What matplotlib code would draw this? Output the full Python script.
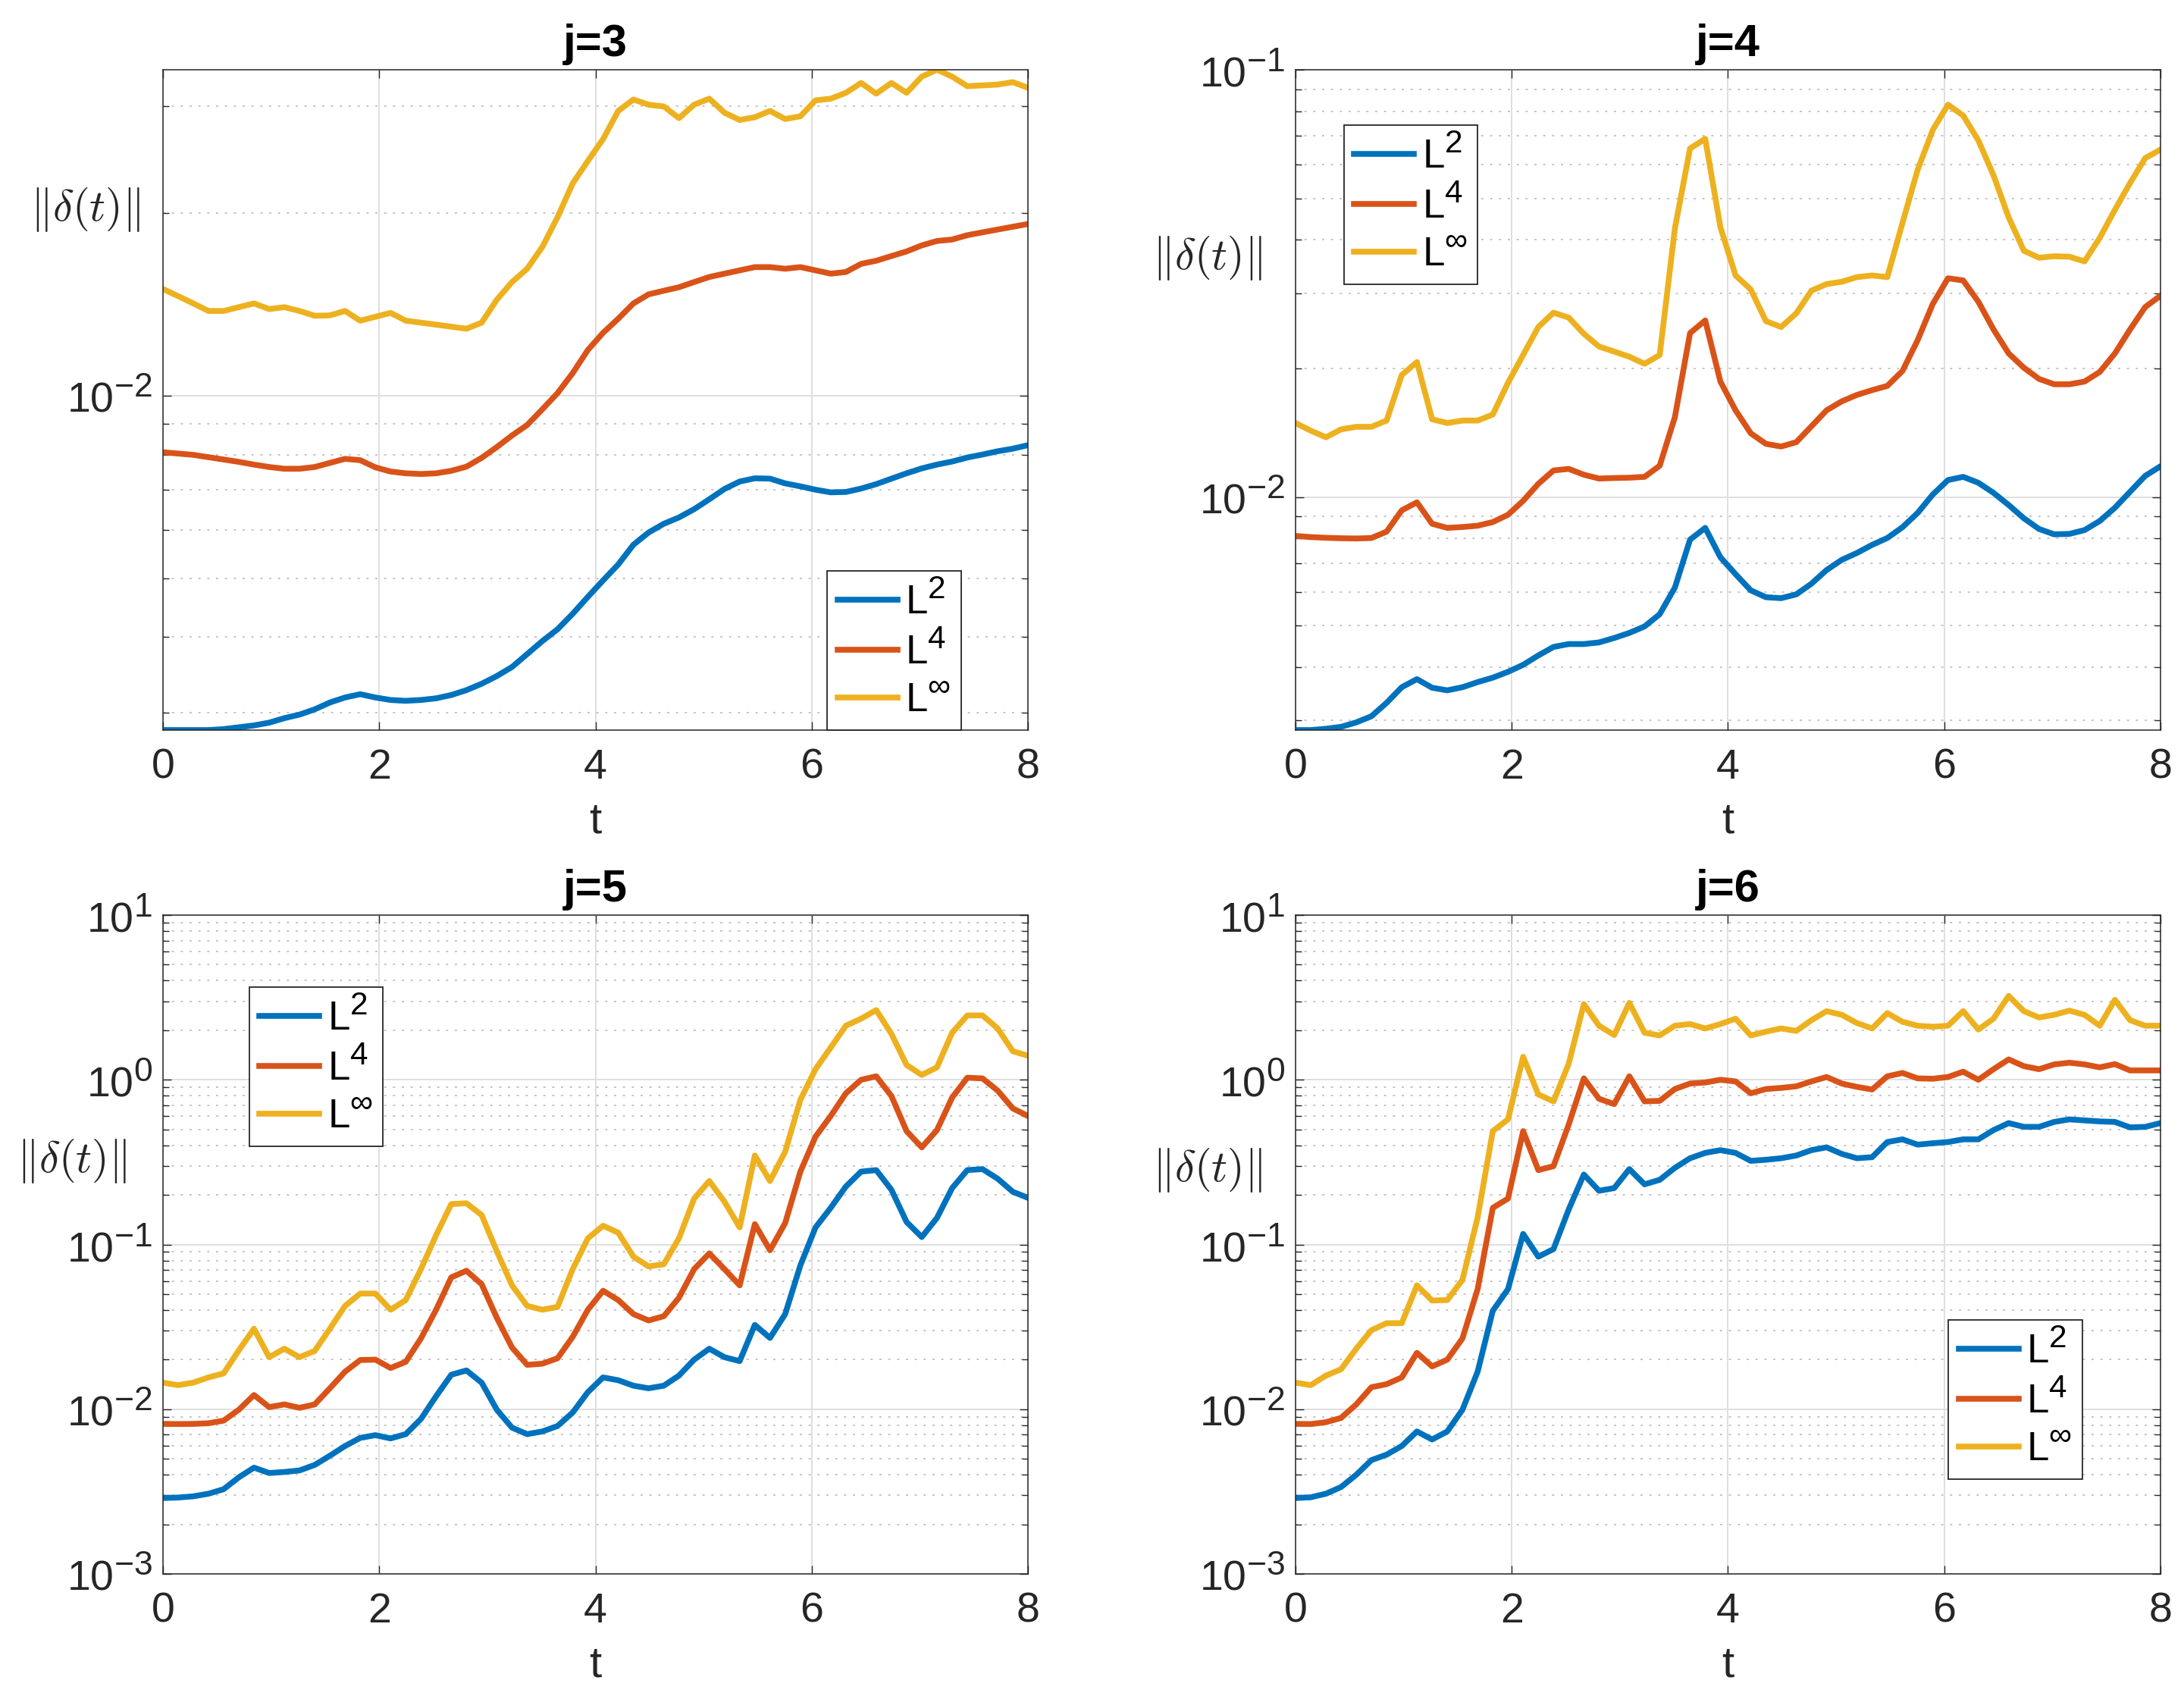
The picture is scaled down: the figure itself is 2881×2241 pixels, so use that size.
import numpy as np
import matplotlib
matplotlib.use("Agg")
import matplotlib.pyplot as plt
import matplotlib._mathtext as _mt
from matplotlib.ticker import LogLocator, NullFormatter, FixedLocator

# MATLAB-style superscripts are a bit larger than matplotlib's default
_mt.SHRINK_FACTOR = 0.8

plt.rcParams['font.family'] = ['Liberation Sans', 'DejaVu Sans']
plt.rcParams['mathtext.fontset'] = 'custom'
plt.rcParams['mathtext.rm'] = 'Liberation Sans'
plt.rcParams['mathtext.it'] = 'Liberation Sans:italic'
plt.rcParams['mathtext.bf'] = 'Liberation Sans:bold'
plt.rcParams['axes.unicode_minus'] = False

# ---------------- data ----------------
t = np.linspace(0, 8, 58)

titles = ['j=3', 'j=4', 'j=5', 'j=6']
labels = [r'$\mathdefault{L^{2}}$', r'$\mathdefault{L^{4}}$', r'$\mathdefault{L^{\infty}}$']

j3_L2 = [0.00281, 0.00281, 0.00281, 0.00281, 0.00282, 0.00284, 0.00286, 0.00289, 0.00294, 0.00298,
         0.00304, 0.00312, 0.00318, 0.00322, 0.00318, 0.00315, 0.00314, 0.00315, 0.00317, 0.00321,
         0.00327, 0.00335, 0.00345, 0.00357, 0.00375, 0.00394, 0.00412, 0.00437, 0.00466, 0.00496,
         0.00527, 0.00568, 0.00595, 0.00615, 0.00630, 0.00650, 0.00675, 0.00702, 0.00722, 0.00731,
         0.00730, 0.00717, 0.00709, 0.00700, 0.00693, 0.00694, 0.00703, 0.00715, 0.00730, 0.00745,
         0.00759, 0.00770, 0.00779, 0.00791, 0.00800, 0.00810, 0.00818, 0.00829]
j3_L4 = [0.00807, 0.00803, 0.00799, 0.00792, 0.00785, 0.00778, 0.00770, 0.00763, 0.00758, 0.00758,
         0.00763, 0.00775, 0.00787, 0.00783, 0.00762, 0.00750, 0.00745, 0.00743, 0.00745, 0.00752,
         0.00764, 0.00790, 0.00823, 0.00860, 0.00895, 0.00950, 0.01010, 0.01090, 0.01190, 0.01270,
         0.01340, 0.01420, 0.01470, 0.01490, 0.01510, 0.01540, 0.01570, 0.01590, 0.01610, 0.01630,
         0.01630, 0.01620, 0.01630, 0.01610, 0.01590, 0.01600, 0.01650, 0.01670, 0.01700, 0.01730,
         0.01770, 0.01800, 0.01810, 0.01840, 0.01860, 0.01880, 0.01900, 0.01920]
j3_Linf = [0.0150, 0.0146, 0.0142, 0.0138, 0.0138, 0.0140, 0.0142, 0.0139, 0.0140, 0.0138,
           0.01355, 0.01357, 0.0138, 0.0133, 0.0135, 0.0137, 0.0133, 0.0132, 0.0131, 0.0130,
           0.0129, 0.0132, 0.0144, 0.0154, 0.0162, 0.0176, 0.0197, 0.0224, 0.0244, 0.0265,
           0.0295, 0.0308, 0.0302, 0.0300, 0.0287, 0.0302, 0.0309, 0.0293, 0.0285, 0.0288,
           0.0295, 0.0286, 0.0289, 0.0307, 0.0309, 0.0316, 0.0328, 0.0315, 0.0328, 0.0316,
           0.0336, 0.0345, 0.0336, 0.0324, 0.0325, 0.0326, 0.0329, 0.0322]

j4_L2 = [0.00285, 0.00285, 0.00287, 0.00290, 0.00297, 0.00307, 0.00330, 0.00359, 0.00375, 0.00358,
         0.00353, 0.00359, 0.00369, 0.00378, 0.00390, 0.00405, 0.00426, 0.00446, 0.00453, 0.00453,
         0.00457, 0.00468, 0.00481, 0.00498, 0.00532, 0.00614, 0.00795, 0.00847, 0.00723, 0.00660,
         0.00605, 0.00583, 0.00580, 0.00592, 0.00627, 0.00675, 0.00713, 0.00740, 0.00773, 0.00802,
         0.00850, 0.00918, 0.01014, 0.01096, 0.01115, 0.01080, 0.01023, 0.00958, 0.00892, 0.00842,
         0.00818, 0.00820, 0.00837, 0.00879, 0.00944, 0.01029, 0.01121, 0.01180]
j4_L4 = [0.00811, 0.00806, 0.00803, 0.00801, 0.00800, 0.00802, 0.00830, 0.00931, 0.00972, 0.00866,
         0.00847, 0.00851, 0.00857, 0.00874, 0.00909, 0.00980, 0.01074, 0.01154, 0.01164, 0.01128,
         0.01105, 0.01108, 0.01110, 0.01115, 0.01184, 0.01538, 0.02419, 0.02590, 0.01863, 0.01596,
         0.01410, 0.01332, 0.01313, 0.01344, 0.01464, 0.01596, 0.01675, 0.01734, 0.01779, 0.01820,
         0.01973, 0.02329, 0.02832, 0.03250, 0.03213, 0.02865, 0.02467, 0.02168, 0.02007, 0.01890,
         0.01836, 0.01836, 0.01863, 0.01962, 0.02168, 0.02467, 0.02784, 0.02957]
j4_Linf = [0.0149, 0.0143, 0.0138, 0.0144, 0.0146, 0.0146, 0.0151, 0.0193, 0.0207, 0.0152,
           0.0149, 0.0151, 0.0151, 0.0156, 0.0185, 0.0215, 0.0250, 0.0270, 0.0263, 0.0241,
           0.0225, 0.0219, 0.0213, 0.0205, 0.0215, 0.0425, 0.0654, 0.0689, 0.0428, 0.0330,
           0.0306, 0.0258, 0.0250, 0.0269, 0.0304, 0.0315, 0.0319, 0.0327, 0.0330, 0.0327,
           0.0438, 0.0583, 0.0723, 0.0828, 0.0781, 0.0683, 0.0566, 0.0451, 0.0377, 0.0363,
           0.0366, 0.0365, 0.0356, 0.0404, 0.0470, 0.0543, 0.0621, 0.0650]

j5_L2 = [0.00289, 0.00291, 0.00296, 0.00307, 0.00327, 0.00386, 0.00442, 0.00410, 0.00416, 0.00425,
         0.00459, 0.00522, 0.00598, 0.00670, 0.00696, 0.00665, 0.00706, 0.00873, 0.0120, 0.0162,
         0.0172, 0.0145, 0.00993, 0.00773, 0.00706, 0.00733, 0.00791, 0.00955, 0.0127, 0.0156,
         0.0150, 0.0139, 0.0134, 0.0139, 0.0160, 0.0200, 0.0233, 0.0207, 0.0196, 0.0325,
         0.0271, 0.0378, 0.0747, 0.127, 0.167, 0.225, 0.277, 0.283, 0.215, 0.137,
         0.111, 0.145, 0.220, 0.283, 0.287, 0.251, 0.209, 0.192]
j5_L4 = [0.00815, 0.00813, 0.00815, 0.00822, 0.00853, 0.00993, 0.0122, 0.0103, 0.0107, 0.0102,
         0.0107, 0.0134, 0.0169, 0.0199, 0.0200, 0.0178, 0.0194, 0.0269, 0.0402, 0.0632,
         0.0693, 0.0574, 0.0359, 0.0237, 0.0186, 0.0189, 0.0204, 0.0275, 0.0402, 0.0524,
         0.0460, 0.0378, 0.0346, 0.0367, 0.0475, 0.0709, 0.0883, 0.0709, 0.0565, 0.133,
         0.0923, 0.135, 0.277, 0.452, 0.603, 0.828, 1.00, 1.05, 0.797, 0.488,
         0.389, 0.495, 0.780, 1.03, 1.02, 0.86, 0.67, 0.603]
j5_Linf = [0.0145, 0.0140, 0.0145, 0.0156, 0.0165, 0.0228, 0.0308, 0.0207, 0.0233, 0.0207,
           0.0226, 0.0308, 0.0424, 0.0504, 0.0504, 0.0402, 0.0460, 0.0709, 0.114, 0.176,
           0.178, 0.151, 0.091, 0.0565, 0.0424, 0.0402, 0.0418, 0.0709, 0.109, 0.130,
           0.118, 0.0844, 0.0736, 0.0759, 0.109, 0.190, 0.243, 0.182, 0.127, 0.347,
           0.243, 0.366, 0.756, 1.16, 1.57, 2.13, 2.35, 2.65, 1.90, 1.23,
           1.07, 1.19, 1.93, 2.46, 2.46, 2.05, 1.49, 1.40]

j6_L2 = [0.00289, 0.00292, 0.00307, 0.00337, 0.00400, 0.00491, 0.00530, 0.00598, 0.00733, 0.00655,
         0.00733, 0.00993, 0.0169, 0.0396, 0.0536, 0.116, 0.0844, 0.0938, 0.163, 0.266,
         0.212, 0.220, 0.287, 0.232, 0.247, 0.292, 0.334, 0.360, 0.374, 0.360,
         0.322, 0.327, 0.334, 0.347, 0.374, 0.389, 0.355, 0.334, 0.339, 0.419,
         0.435, 0.404, 0.412, 0.419, 0.435, 0.435, 0.495, 0.546, 0.518, 0.518,
         0.555, 0.575, 0.567, 0.559, 0.555, 0.514, 0.518, 0.546]
j6_L4 = [0.00815, 0.00813, 0.00834, 0.00886, 0.0107, 0.0136, 0.0142, 0.0156, 0.0220, 0.0182,
         0.0200, 0.0269, 0.0536, 0.167, 0.190, 0.488, 0.283, 0.299, 0.534, 1.02,
         0.767, 0.712, 1.05, 0.740, 0.745, 0.879, 0.949, 0.963, 1.00, 0.978,
         0.828, 0.879, 0.893, 0.913, 0.978, 1.04, 0.949, 0.906, 0.873, 1.05,
         1.10, 1.02, 1.015, 1.04, 1.12, 1.00, 1.16, 1.33, 1.21, 1.16,
         1.24, 1.27, 1.24, 1.19, 1.245, 1.14, 1.14, 1.14]
j6_Linf = [0.0145, 0.0140, 0.0160, 0.0175, 0.0233, 0.0302, 0.0333, 0.0333, 0.0565, 0.0457,
           0.0460, 0.0610, 0.146, 0.488, 0.575, 1.38, 0.815, 0.740, 1.25, 2.88,
           2.13, 1.87, 2.93, 1.93, 1.86, 2.13, 2.18, 2.05, 2.18, 2.35,
           1.86, 1.96, 2.05, 1.98, 2.30, 2.61, 2.48, 2.21, 2.05, 2.54,
           2.25, 2.13, 2.10, 2.13, 2.61, 2.02, 2.35, 3.23, 2.61, 2.39,
           2.48, 2.63, 2.48, 2.13, 3.06, 2.30, 2.13, 2.13]

series = [
    (j3_L2, j3_L4, j3_Linf),
    (j4_L2, j4_L4, j4_Linf),
    (j5_L2, j5_L4, j5_Linf),
    (j6_L2, j6_L4, j6_Linf),
]
ylims = [(0.00281, 0.0345), (0.00285, 0.1), (1e-3, 1e1), (1e-3, 1e1)]
xticks = [0, 2, 4, 6, 8]

# ---------------- styling / layout ----------------
colors = ['#0072BD', '#D95319', '#EDB120']
axpos = [
    [0.0746, 0.5703, 0.3961, 0.3887],
    [0.5932, 0.5703, 0.3960, 0.3887],
    [0.0746, 0.0736, 0.3961, 0.3878],
    [0.5932, 0.0736, 0.3960, 0.3878],
]
leg_anchor = [(0.768, 0.0), (0.056, 0.675), (0.100, 0.649), (0.755, 0.144)]
ylab_pos = [(-0.090, 0.789), (-0.102, 0.715), (-0.106, 0.627), (-0.102, 0.613)]

axcol = (0.15, 0.15, 0.15)
fig = plt.figure(figsize=(28.81, 22.41), dpi=100)

for k in range(4):
    ax = fig.add_axes(axpos[k])
    for s, c, lab in zip(series[k], colors, labels):
        ax.plot(t, s, color=c, lw=5.5, label=lab, solid_joinstyle='round')
    ax.set_yscale('log')
    ax.set_xlim(0, 8)
    ax.set_ylim(*ylims[k])
    ax.xaxis.set_major_locator(FixedLocator(xticks))
    ax.yaxis.set_major_locator(LogLocator(base=10, numticks=30))
    ax.yaxis.set_minor_locator(LogLocator(base=10, subs=np.arange(2, 10), numticks=30))
    ax.yaxis.set_minor_formatter(NullFormatter())

    ax.grid(True, which='major', axis='both', color='#dfdfdf', lw=1.4, ls='-')
    ax.grid(True, which='minor', axis='y', color='#c4c4c4', lw=1.4, ls=(0, (1.5, 4.5)))
    ax.set_axisbelow(True)

    for sp in ax.spines.values():
        sp.set_color(axcol)
        sp.set_linewidth(1.1)
    ax.tick_params(which='both', direction='in', top=True, right=True,
                   color=axcol, width=1.0, labelcolor=axcol, labelsize=40)
    ax.tick_params(which='major', length=8)
    ax.tick_params(which='minor', length=5.8)
    ax.tick_params(axis='x', pad=17)
    ax.tick_params(axis='y', pad=10)

    ax.set_title(titles[k], fontsize=43, fontweight='bold', pad=13)
    ax.set_xlabel('t', fontsize=42, color=axcol, labelpad=13)
    ax.text(ylab_pos[k][0], ylab_pos[k][1], r'$\|\delta(t)\|$', transform=ax.transAxes,
            ha='center', va='center', fontsize=42, color=axcol, math_fontfamily='cm')

    leg = ax.legend(loc='lower left', bbox_to_anchor=leg_anchor[k], fontsize=38,
                    frameon=True, fancybox=False, framealpha=1, edgecolor='#262626',
                    handlelength=1.5, handletextpad=0.2, borderpad=0.25,
                    labelspacing=0.25, borderaxespad=0)
    leg.get_frame().set_linewidth(1.3)

fig.savefig('out.png', dpi=100)
